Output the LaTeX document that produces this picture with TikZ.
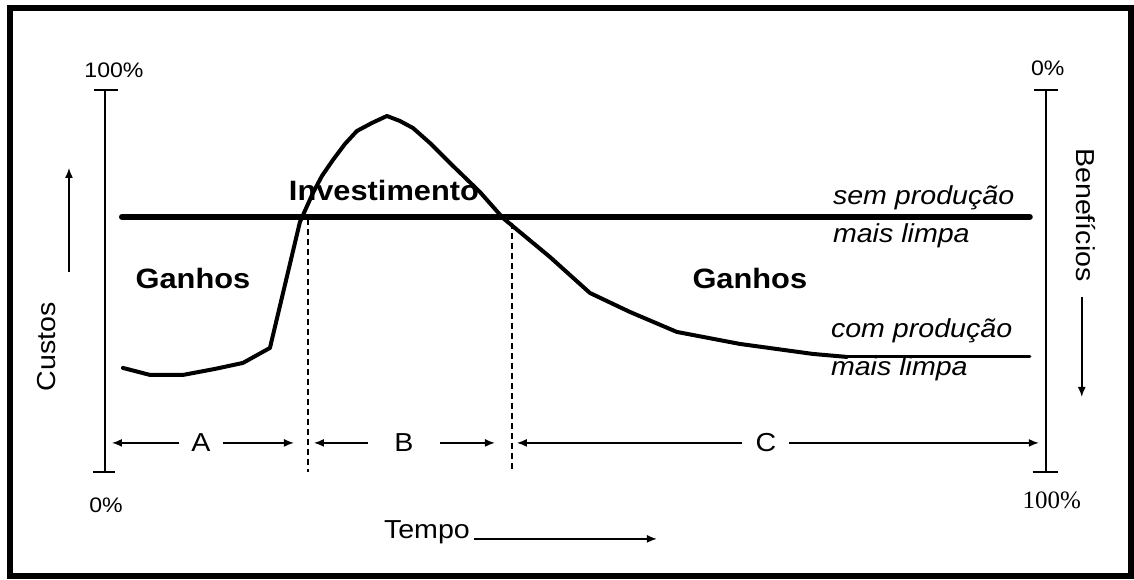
\documentclass[tikz,border=0pt]{standalone}
\usepackage{fontspec}
\setmainfont{Liberation Sans}
\newfontfamily\serifface{Liberation Serif}
\usetikzlibrary{arrows.meta}
\newcommand{\wide}[1]{\scalebox{1.1}[1]{#1}}
\begin{document}
\begin{tikzpicture}[x=1pt,y=-1pt,
  axis/.style={line width=1.8pt},
  dim/.style={line width=1.5pt,-{Latex[length=10pt,width=8pt]}},
  guide/.style={line width=1.4pt,dash pattern=on 6pt off 4pt},
  txt/.style={inner sep=0pt,font=\fontsize{26}{30}\selectfont},
  bigbold/.style={inner sep=0pt,font=\fontsize{28}{32}\selectfont\bfseries},
  ital/.style={inner sep=0pt,anchor=west,font=\fontsize{26}{30}\selectfont\itshape},
  pct/.style={inner sep=0pt,font=\fontsize{21}{25}\selectfont},
]
% background and frame
\fill[white] (0,0) rectangle (1134,579);
\draw[line width=6.5pt] (10,8) rectangle (1131,576);

% left axis
\coordinate (lt) at (105,90);
\coordinate (lb) at (105,472);
\draw[axis] (lt) -- (lb);
\draw[axis] ([xshift=-11pt]lt) -- ([xshift=13pt]lt);
\draw[axis] ([xshift=-12pt]lb) -- ([xshift=10pt]lb);
\node[pct] (l100) at (114,70) {\wide{100\%}};
\node[pct] (l0) at (106,505) {\wide{0\%}};

% right axis
\coordinate (rt) at (1046,90);
\coordinate (rb) at (1046,472);
\draw[axis] (rt) -- (rb);
\draw[axis] ([xshift=-12pt]rt) -- ([xshift=12pt]rt);
\draw[axis] ([xshift=-13pt]rb) -- ([xshift=12pt]rb);
\node[pct] (r0) at (1048,68) {\wide{0\%}};
\node[pct,font=\fontsize{25}{28}\serifface] (r100) at (1052,500) {100\%};

% axis titles
\node[txt,rotate=90] (custos) at (47,347) {\wide{Custos}};
\coordinate (cu1) at (69,272);
\coordinate (cu2) at (69,168);
\draw[dim] (cu1) -- (cu2);
\node[txt,rotate=-90] (benef) at (1086,215) {\wide{Benefícios}};
\coordinate (be1) at (1082,297);
\coordinate (be2) at (1082,397);
\draw[dim] (be1) -- (be2);

% time axis label
\node[txt,anchor=base] (tempo) at (427,539) {\wide{Tempo}};
\coordinate (tend) at (657,539);
\draw[dim] ([xshift=4pt]tempo.base east) -- (tend);

% dashed phase separators
\coordinate (d1t) at (308,219);
\coordinate (d1b) at (308,472);
\coordinate (d2t) at (512,223);
\coordinate (d2b) at (512,472);
\draw[guide] (d1t) -- (d1b);
\draw[guide] (d2t) -- (d2b);

% phase dimension arrows
\node[txt,inner xsep=12pt] (A) at (201,443) {\wide{A}};
\node[txt,inner xsep=26pt] (B) at (404,443) {\wide{B}};
\node[txt,inner xsep=13pt] (C) at (766,443) {\wide{C}};
\coordinate (a1) at (112,443);
\coordinate (a2) at (294,443);
\coordinate (b1) at (314,443);
\coordinate (b2) at (495,443);
\coordinate (c1) at (517,443);
\coordinate (c2) at (1039,443);
\draw[dim] (A.west) -- (a1);
\draw[dim] (A.east) -- (a2);
\draw[dim] (B.west) -- (b1);
\draw[dim] (B.east) -- (b2);
\draw[dim] (C.west) -- (c1);
\draw[dim] (C.east) -- (c2);

% region labels
\node[bigbold] (g1) at (193,279) {\wide{Ganhos}};
\node[bigbold] (g2) at (750,279) {\wide{Ganhos}};
\node[bigbold] (inv) at (384,191) {\wide{Investimento}};

% baseline without cleaner production
\coordinate (s1) at (122,217);
\coordinate (s2) at (1030,217);
\draw[line width=6pt,line cap=round] (s1) -- (s2);
\node[ital] (sem1) at (833,198) {\wide{sem produção}};
\node[ital] (sem2) at (833,236) {\wide{mais limpa}};

% curve with cleaner production
\draw[line width=4pt,line join=round,line cap=round]
  plot coordinates {(123,368) (150,375) (183,375) (215,369) (243,363) (270,348)
  (300,222) (313,193) (322,176) (333,160) (345,144) (357,131) (372,123) (387,116)
  (400,121) (413,128) (430,143) (450,163) (480,192) (503,218) (550,257) (590,293)
  (630,312) (677,332) (740,344) (813,354) (847,357)};
\draw[line width=3pt,line cap=round] (847,357) -- (1030,357);
\node[ital] (com1) at (831,331) {\wide{com produção}};
\node[ital] (com2) at (831,369) {\wide{mais limpa}};
\end{tikzpicture}
\end{document}
